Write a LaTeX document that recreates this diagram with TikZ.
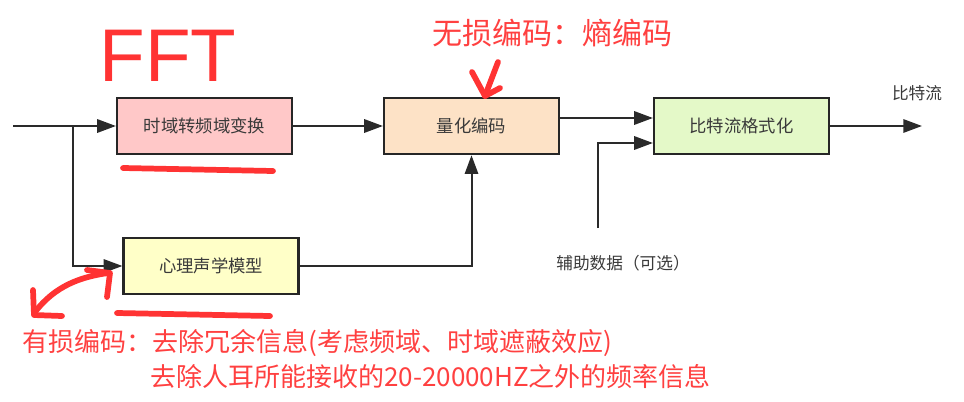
\documentclass[tikz,border=0pt]{standalone}
\usepackage{fontspec}
\setmainfont{Noto Sans CJK SC}
\newfontfamily\handfont{Liberation Sans}
\usepackage{xcolor}
\usepackage{tikz}
\usetikzlibrary{arrows.meta,positioning,calc}

\definecolor{boxline}{HTML}{262626}
\definecolor{linegray}{HTML}{2A2A2A}
\definecolor{textgray}{HTML}{3A3A3A}
\definecolor{pinkfill}{HTML}{FFC8C8}
\definecolor{peachfill}{HTML}{FDE2C6}
\definecolor{greenfill}{HTML}{E4F9C8}
\definecolor{yellowfill}{HTML}{FFFFC8}
\definecolor{notered}{HTML}{FF4040}
\definecolor{penred}{HTML}{FF3333}

\begin{document}
\begin{tikzpicture}[
      x=0.75pt, y=-0.75pt,
      box/.style={rectangle, draw=boxline, line width=1.9pt, minimum width=131pt, minimum height=42pt,
                  inner sep=0pt, align=center, text=textgray, font=\fontsize{13pt}{15pt}\selectfont},
      arrow/.style={-{Triangle[length=14pt,width=10pt]}, line width=1.5pt, draw=linegray},
      tag/.style={text=textgray, inner sep=0pt, font=\fontsize{12.5pt}{15pt}\selectfont},
      note/.style={text=notered, inner sep=0pt, font=\fontsize{19.5pt}{22pt}\selectfont},
      pen/.style={draw=penred, line width=4.3pt, line cap=round, line join=round},
    ]
    \useasboundingbox (0,0) rectangle (964,401);

    \node[box, fill=pinkfill]   (fft)    at (204.5,126) {时域转频域变换};
    \node[box, fill=peachfill]  (quant)  at (471.5,126) {量化编码};
    \node[box, fill=greenfill]  (format) at (741.5,126) {比特流格式化};
    \node[box, fill=yellowfill] (psy)    at (211,266)   {心理声学模型};

    \coordinate (in)     at (13,126);
    \coordinate (split)  at (73,126);
    \coordinate (auxend) at (598,228);
    \coordinate (out)    at (922,126);

    \node[tag] (aux)  at (623,263) {辅助数据（可选）};
    \node[tag] (bits) at (917,93)  {比特流};

    \draw[arrow] (in) -- (fft);
    \draw[arrow] (split) |- (psy.west);
    \draw[arrow] (fft) -- (quant);
    \draw[arrow] (psy.east) -| (quant.south);
    \draw[arrow] ([yshift=6pt]quant.east) -- ([yshift=6pt]format.west);
    \draw[arrow] (auxend) |- ([yshift=-12.75pt]format.west);
    \draw[arrow] (format) -- (out);

    % red notes on top
    \node[text=penred, inner sep=0pt, font=\handfont\fontsize{56pt}{60pt}\selectfont] (fftnote) at (168,56) {FFT};
    \node[note, font=\fontsize{22.5pt}{26pt}\selectfont] (lossless) at (552,33) {无损编码：熵编码};
    \node[note, anchor=west] (lossy)  at (22,343)  {有损编码：去除冗余信息(考虑频域、时域遮蔽效应)};
    \node[note, anchor=west] (lossy2) at (150,377) {去除人耳所能接收的20-20000HZ之外的频率信息};

    \draw[pen] (123,168) -- (273,171);
    \draw[pen] (117,313) -- (270,316);
    \draw[pen] (472,72) -- (485,96) -- (500,88);
    \draw[pen] (498,62) -- (485,96);
    \draw[pen] (35,312) .. controls (55,286) and (80,277) .. (108,273);
    \draw[pen] (33,290) -- (34,315) -- (62,316);
    \draw[pen] (87,270) -- (110,273) -- (107,297);
  \end{tikzpicture}
\end{document}
